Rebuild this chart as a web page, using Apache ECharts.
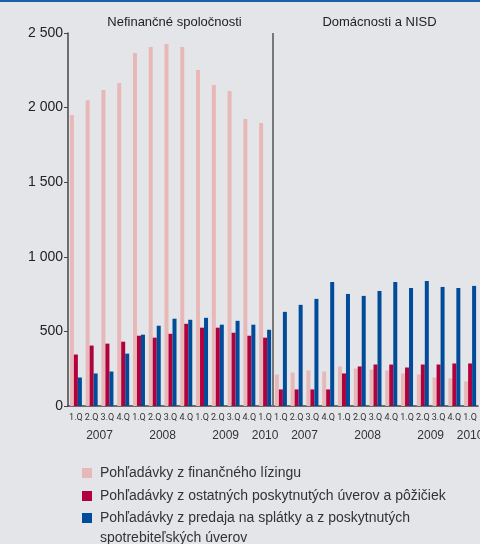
<!DOCTYPE html>
<html>
<head>
<meta charset="utf-8">
<script src="https://cdn.jsdelivr.net/npm/echarts@6/dist/echarts.min.js"></script>
<style>
  html, body { margin: 0; padding: 0; background: #e4e5e8; }
  #chart { width: 480px; height: 544px; }
</style>
</head>
<body>
<div id="chart"></div>
<script>
// quarters of both panels (13 + 13)
const quarters = ['1.Q','2.Q','3.Q','4.Q','1.Q','2.Q','3.Q','4.Q','1.Q','2.Q','3.Q','4.Q','1.Q',
                  '1.Q','2.Q','3.Q','4.Q','1.Q','2.Q','3.Q','4.Q','1.Q','2.Q','3.Q','4.Q','1.Q'];
const years = ['2007','2007','2007','2007','2008','2008','2008','2008','2009','2009','2009','2009','2010',
               '2007','2007','2007','2007','2008','2008','2008','2008','2009','2009','2009','2009','2010'];
const panels = ['Nefinančné spoločnosti', 'Domácnosti a NISD'];
const yTicks = [0, 500, 1000, 1500, 2000, 2500];

const seriesNames = [
  'Pohľadávky z finančného lízingu',
  'Pohľadávky z ostatných poskytnutých úverov a pôžičiek',
  'Pohľadávky z predaja na splátky a z poskytnutých spotrebiteľských úverov'
];
const leasing = [1950, 2050, 2118, 2165, 2366, 2406, 2426, 2406, 2252, 2151, 2111, 1924, 1897,
                 211, 224, 238, 231, 265, 251, 245, 238, 218, 211, 191, 185, 165];
const otherLoans = [345, 405, 418, 431, 471, 458, 484, 551, 525, 525, 491, 471, 458,
                    111, 111, 111, 111, 218, 265, 278, 278, 258, 278, 278, 285, 285];
const instalment = [191, 218, 231, 351, 478, 538, 585, 578, 591, 545, 571, 545, 511,
                    631, 678, 718, 831, 751, 738, 771, 831, 791, 838, 798, 791, 805];

const colors = ['#e8b8b8', '#b0003e', '#004b9a'];
const narrow = 'Roboto, "Liberation Sans", sans-serif';
const regular = '"Liberation Sans", Arial, sans-serif';

// year label centres from runs of equal years
const yearCentres = {};
let start = 0;
for (let i = 1; i <= years.length; i++) {
  if (i === years.length || years[i] !== years[start]) {
    yearCentres[(start + i) / 2] = years[start];
    start = i;
  }
}
const split = quarters.length / 2;
const yMax = yTicks[yTicks.length - 1];

const chart = echarts.init(document.getElementById('chart'));

const gridLeft = 68, gridTop = 33, gridWidth = 410;

chart.setOption({
  backgroundColor: '#e4e5e8',
  animation: false,
  graphic: [
    { type: 'rect', left: 0, top: 0, shape: { width: 480, height: 2 }, style: { fill: '#1d5fa6' } }
  ],
  title: panels.map((t, i) => ({
    text: t,
    left: gridLeft + gridWidth * (i * 2 + 1) / 4 - 1,
    top: 11,
    textAlign: 'center',
    textStyle: { fontFamily: regular, fontSize: 13, fontWeight: 'normal', color: '#222' }
  })),
  legend: [
    {
      data: seriesNames.slice(0, 2),
      orient: 'vertical',
      left: 77, top: 458,
      icon: 'rect', itemWidth: 10, itemHeight: 10, itemGap: 3,
      textStyle: { fontFamily: regular, fontSize: 14, color: '#333', lineHeight: 20, padding: [0, 0, 0, 3] },
      selectedMode: false
    },
    {
      data: [seriesNames[2]],
      orient: 'vertical',
      left: 77, top: 483,
      icon: 'rect', itemWidth: 10, itemHeight: 10,
      // empty first line keeps the marker level with the first text line
      formatter: n => '\n' + n.replace(' spotrebiteľských', '\nspotrebiteľských'),
      textStyle: { fontFamily: regular, fontSize: 14, color: '#333', lineHeight: 20, padding: [0, 0, 0, 3] },
      selectedMode: false
    }
  ],
  grid: { left: gridLeft, top: gridTop, width: gridWidth, height: 373, outerBoundsMode: 'none' },
  xAxis: [
    {
      type: 'category',
      data: quarters,
      boundaryGap: true,
      axisLine: { lineStyle: { color: '#444', width: 1.5 } },
      axisTick: { interval: 0, length: 4, lineStyle: { color: '#444' } },
      axisLabel: { interval: 0, margin: 7, fontFamily: narrow, fontSize: 9, color: '#333' }
    },
    {
      type: 'value',
      min: 0, max: quarters.length, interval: 0.5,
      position: 'bottom', offset: 18,
      axisLine: { show: false }, axisTick: { show: false }, splitLine: { show: false },
      axisLabel: {
        margin: 6, fontFamily: regular, fontSize: 12, color: '#333',
        showMinLabel: true, showMaxLabel: true,
        formatter: v => yearCentres[v] || ''
      }
    }
  ],
  yAxis: {
    type: 'value',
    min: 0, max: yMax, interval: 500,
    axisLine: { show: true, lineStyle: { color: '#444', width: 1.5 } },
    axisTick: { show: true, length: 4, lineStyle: { color: '#444' } },
    splitLine: { show: false },
    axisLabel: {
      margin: 5, fontFamily: regular, fontSize: 14, color: '#222',
      formatter: v => String(v).replace(/\B(?=(\d{3})+(?!\d))/g, ' ')
    }
  },
  series: [
    { name: seriesNames[0], type: 'bar', data: leasing, barWidth: 4, barGap: '0%', itemStyle: { color: colors[0] } },
    { name: seriesNames[1], type: 'bar', data: otherLoans, barWidth: 4, barGap: '0%', itemStyle: { color: colors[1] } },
    { name: seriesNames[2], type: 'bar', data: instalment, barWidth: 4, barGap: '0%', itemStyle: { color: colors[2] } },
    {
      type: 'line', xAxisIndex: 1, silent: true, symbol: 'none',
      data: [[split, 0], [split, yMax]],
      lineStyle: { color: '#777', width: 2 }
    }
  ]
});
</script>
</body>
</html>
